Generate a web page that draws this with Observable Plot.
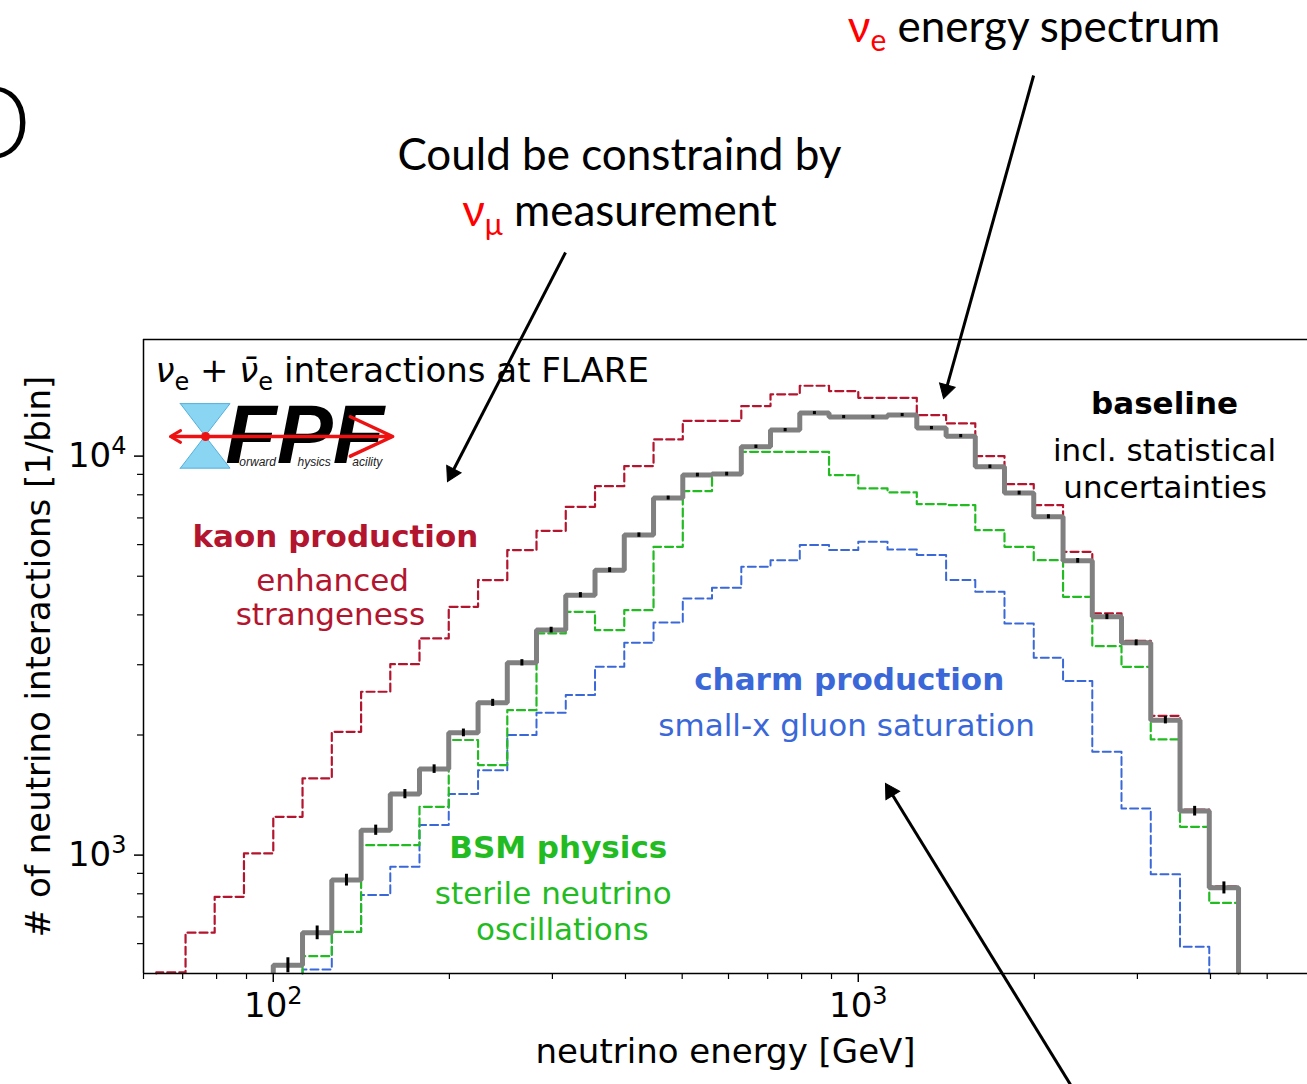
<!DOCTYPE html>
<html>
<head>
<meta charset="utf-8">
<script src="https://cdn.jsdelivr.net/npm/d3@7"></script>
<script src="https://cdn.jsdelivr.net/npm/@observablehq/plot@0.6"></script>
<style>
  html, body { margin: 0; padding: 0; background: #fff; }
</style>
</head>
<body>
<div id="chart"></div>
<script>
// ---------------- DATA ----------------
// histogram bin edges in GeV (20 bins per decade)
const binEdges = [63.1, 70.8, 79.4, 89.1, 100, 112.2, 125.9, 141.3, 158.5, 177.8, 199.5,
  223.9, 251.2, 281.8, 316.2, 354.8, 398.1, 446.7, 501.2, 562.3, 631.0, 707.9, 794.3,
  891.3, 1000, 1122, 1259, 1413, 1585, 1778, 1995, 2239, 2512, 2818, 3162, 3548, 3981, 4467];

// kaon production (enhanced strangeness), 37 bins
const kaon = [508, 639, 786, 1010, 1247, 1557, 2037, 2567, 3010, 3493, 4191, 4889, 5813,
  6498, 7463, 8408, 9441, 11010, 12260, 12260, 13347, 14280, 15007, 14555, 13997, 13997,
  12670, 12078, 10000, 8506, 7538, 5757, 4035, 3444, 2234, 1300, 835];

// baseline
const baseline = [null, null, null, null, 530, 639, 866, 1155, 1422, 1643, 2025, 2408, 3034,
  3664, 4482, 5179, 6339, 7849, 8962, 9014, 10551, 11620, 12820, 12525, 12525, 12670,
  11755, 11222, 9402, 8077, 7046, 5465, 3956, 3405, 2179, 1289, 828];

// BSM physics (sterile neutrino oscillations)
const bsm = [null, null, null, null, null, 558, 642, 1059, 1059, 1321, 1943, 1681, 2308,
  3594, 4072, 3664, 4111, 5925, 8171, 9014, 10250, 10250, 10250, 8962, 8299, 8110,
  7582, 7538, 6523, 5925, 5486, 4440, 3340, 2964, 1950, 1177, 759];

// charm production (small-x gluon saturation)
const charm = [null, null, null, null, null, 517, 642, 794, 935, 1189, 1422, 1633, 1999,
  2275, 2518, 2965, 3404, 3830, 4399, 4677, 5280, 5486, 5984, 5813, 6099, 5834,
  5649, 4889, 4570, 3808, 3123, 2730, 1815, 1309, 896, 589, null];

// axis ticks
const xMajorTicks = [100, 1000];
const xMajorLabels = ["10²", "10³"];
const xMinorTicks = [60, 70, 80, 90, 200, 300, 400, 500, 600, 700, 800, 900, 2000, 3000, 4000, 5000];
const yMajorTicks = [1000, 10000];
const yMajorLabels = ["10³", "10⁴"];
const yMinorTicks = [600, 700, 800, 900, 2000, 3000, 4000, 5000, 6000, 7000, 8000, 9000];

const xLabel = "neutrino energy [GeV]";
const yLabel = "# of neutrino interactions [1/bin]";

// text labels inside the chart
const noteTexts = ["kaon production", "enhanced", "strangeness",
  "baseline", "incl. statistical", "uncertainties",
  "charm production", "small-x gluon saturation",
  "BSM physics", "sterile neutrino", "oscillations"];
const titleSegments = [["ν", "i"], ["e", "s"], [" + "], ["ν̄", "i"], ["e", "s"], [" interactions at FLARE"]];
const slideLine1 = "Could be constraind by";
const slideLine2Segments = [["ν", "r"], ["μ", "rs"], [" measurement"]];
const slideTopSegments = [["ν", "r"], ["e", "rs"], [" energy spectrum"]];
const logoWord = "FPF";
const logoSmall = ["orward", "hysics", "acility"];

// ---------------- LAYOUT ----------------
const W = 1307, H = 1084;
const MT = 339, MB = 111, ML = 143, MR = 0;
const X_DOMAIN = [60, 5860];
const Y_DOMAIN = [505, 19600];
const RED = "#b3152e", GREEN = "#22bb22", BLUE = "#3a68d8", GRAY = "#808080";
const SLIDE_RED = "#ff0000";

// annotation anchors (in data units: GeV, interactions)
const notePos = [
  {x: 127.7, y: 5902, c: RED, b: true}, {x: 126.3, y: 4604, c: RED}, {x: 125.2, y: 3763, c: RED},
  {x: 3338, y: 12785, c: "black", b: true}, {x: 3338, y: 9695, c: "black"}, {x: 3345, y: 7832, c: "black"},
  {x: 965, y: 2586, c: BLUE, b: true}, {x: 955, y: 1994, c: BLUE},
  {x: 307, y: 986, c: GREEN, b: true}, {x: 301, y: 756, c: GREEN}, {x: 312, y: 614, c: GREEN}
];
const arrows = [
  {x1: 315.9, y1: 32380, x2: 198.5, y2: 8636},
  {x1: 1994, y1: 89920, x2: 1399, y2: 13940},
  {x1: 2305, y1: 266, x2: 1113, y2: 1512}
];

// ---------------- HELPERS ----------------
function stepPoints(vals) {
  const idx = vals.map((v, i) => v == null ? -1 : i).filter(i => i >= 0);
  const first = idx[0], last = idx[idx.length - 1];
  const pts = [{x: binEdges[first], y: Y_DOMAIN[0]}];
  for (let i = first; i <= last; i++) pts.push({x: binEdges[i], y: vals[i]});
  pts.push({x: binEdges[last + 1], y: vals[last]});
  pts.push({x: binEdges[last + 1], y: Y_DOMAIN[0]});
  return pts;
}
const errBars = baseline.map((v, i) => v == null ? null : {
  c: Math.sqrt(binEdges[i] * binEdges[i + 1]), lo: v - Math.sqrt(v), hi: v + Math.sqrt(v)
}).filter(Boolean);

const sx = Plot.scale({x: {type: "log", domain: X_DOMAIN, range: [ML, W - MR]}});
const sy = Plot.scale({y: {type: "log", domain: Y_DOMAIN, range: [H - MB, MT]}});
const HEAD_R = 6;
const headOff = 2 * Math.sqrt(Math.PI * HEAD_R * HEAD_R / (3 * Math.sqrt(3)));
const heads = arrows.map(a => {
  const px1 = sx.apply(a.x1), py1 = sy.apply(a.y1), px2 = sx.apply(a.x2), py2 = sy.apply(a.y2);
  const dx = px2 - px1, dy = py2 - py1, L = Math.hypot(dx, dy);
  const cx = px2 - dx / L * headOff, cy = py2 - dy / L * headOff;
  return {x1: a.x1, y1: a.y1, x: sx.invert(cx), y: sy.invert(cy), angle: Math.atan2(dx, -dy) * 180 / Math.PI};
});

const notes = noteTexts.map((t, i) => ({text: t, ...notePos[i]}));
const plainOf = segs => segs.map(s => s[0]).join("");

// ---------------- PLOT ----------------
const noteMarks = notes.map(n => Plot.text([n], {
  x: "x", y: "y", text: "text", fill: n.c, fontSize: 31, fontWeight: n.b ? "bold" : "normal",
  textAnchor: "middle", lineAnchor: "bottom", fontFamily: "DejaVu Sans"
}));

const plot = Plot.plot({
  width: W, height: H,
  marginTop: MT, marginBottom: MB, marginLeft: ML, marginRight: MR,
  x: {type: "log", domain: X_DOMAIN, label: null},
  y: {type: "log", domain: Y_DOMAIN, label: null},
  style: {fontFamily: "DejaVu Sans", fontSize: "34px", background: "white", color: "black", overflow: "visible"},
  marks: [
    // logo (FPF)
    Plot.areaY([{x: 69.5, a: 13500, b: 13500}, {x: 76.6, a: 13500, b: 11200}, {x: 84.5, a: 13500, b: 13500}],
      {x: "x", y1: "a", y2: "b", fill: "#8ad6f2", stroke: "#52b0de", strokeWidth: 1, curve: "linear"}),
    Plot.areaY([{x: 69.5, a: 9300, b: 9300}, {x: 76.6, a: 9300, b: 11200}, {x: 84.5, a: 9300, b: 9300}],
      {x: "x", y1: "a", y2: "b", fill: "#8ad6f2", stroke: "#52b0de", strokeWidth: 1}),
    Plot.text([logoWord], {x: 82.8, y: 9637, text: d => d, fontSize: 84, fontWeight: "bold", fontStyle: "italic",
      fontFamily: "Liberation Sans", textAnchor: "start", lineAnchor: "bottom", fill: "black"}),
    Plot.text(logoSmall, {x: [87.5, 110, 136.5], y: [9470, 9470, 9470], text: d => d,
      fontSize: 12, fontStyle: "italic", fontFamily: "Liberation Sans", textAnchor: "start", lineAnchor: "bottom", fill: "#222"}),
    Plot.arrow([{a: 68, b: 160}], {x1: "a", x2: "b", y1: () => 11200, y2: () => 11200, stroke: "#ee1111",
      strokeWidth: 3.5, headLength: 20, headAngle: 50}),
    Plot.arrow([{a: 76.6, b: 66.7}], {x1: "a", x2: "b", y1: () => 11200, y2: () => 11200, stroke: "#ee1111",
      strokeWidth: 3, headLength: 10, headAngle: 60}),
    Plot.dot([76.6], {x: d => d, y: () => 11200, r: 4.5, fill: "#ee1111", stroke: "none"}),

    // histograms
    Plot.line(stepPoints(charm), {x: "x", y: "y", curve: "step-after", stroke: BLUE, strokeWidth: 2, strokeDasharray: "8,4"}),
    Plot.line(stepPoints(bsm), {x: "x", y: "y", curve: "step-after", stroke: GREEN, strokeWidth: 2.2, strokeDasharray: "8,4"}),
    Plot.line(stepPoints(kaon), {x: "x", y: "y", curve: "step-after", stroke: RED, strokeWidth: 2.2, strokeDasharray: "8,4"}),
    Plot.line(stepPoints(baseline), {x: "x", y: "y", curve: "step-after", stroke: GRAY, strokeWidth: 5,
      strokeLinejoin: "miter", strokeLinecap: "butt"}),
    Plot.ruleX(errBars, {x: "c", y1: "lo", y2: "hi", stroke: "black", strokeWidth: 3}),

    // frame
    Plot.ruleX([X_DOMAIN[0]], {stroke: "black", strokeWidth: 1.5}),
    Plot.ruleY([Y_DOMAIN[0]], {stroke: "black", strokeWidth: 1.5}),
    Plot.ruleY([Y_DOMAIN[1]], {stroke: "black", strokeWidth: 1.5}),

    // axes
    Plot.axisX(xMajorTicks, {anchor: "bottom", tickSize: 9, tickPadding: 10, strokeWidth: 1.5, fontSize: 34,
      tickFormat: d => xMajorLabels[xMajorTicks.indexOf(d)], label: null}),
    Plot.axisX(xMinorTicks, {anchor: "bottom", tickSize: 6, strokeWidth: 1.2, tickFormat: () => "", label: null}),
    Plot.axisY(yMajorTicks, {anchor: "left", tickSize: 9, tickPadding: 8, strokeWidth: 1.5, fontSize: 34,
      tickFormat: d => yMajorLabels[yMajorTicks.indexOf(d)], label: null}),
    Plot.axisY(yMinorTicks, {anchor: "left", tickSize: 6, strokeWidth: 1.2, tickFormat: () => "", label: null}),
    Plot.text([xLabel], {frameAnchor: "bottom", text: d => d, dy: 89, textAnchor: "middle", lineAnchor: "bottom",
      fontSize: 34, fill: "black"}),
    Plot.text([yLabel], {frameAnchor: "left", text: d => d, dx: -104, rotate: -90, textAnchor: "middle",
      lineAnchor: "middle", fontSize: 34, fill: "black"}),

    // title inside plot
    Plot.text([plainOf(titleSegments)], {x: 62.9, y: 15380, text: d => d, fontSize: 34,
      textAnchor: "start", lineAnchor: "bottom", fill: "black"}),

    // notes
    ...noteMarks,

    // slide annotations
    Plot.text(["D"], {x: 38.6, y: 55700, text: d => d, fontSize: 102, fontFamily: "Lato", fontWeight: 300,
      textAnchor: "end", lineAnchor: "bottom", fill: "black"}),
    Plot.text([slideLine1], {x: 390.6, y: 51980, text: d => d, fontSize: 44, fontFamily: "Lato",
      textAnchor: "middle", lineAnchor: "bottom", fill: "black"}),
    Plot.text([plainOf(slideLine2Segments)], {x: 390.6, y: 37630, text: d => d, fontSize: 44,
      fontFamily: "Lato", textAnchor: "middle", lineAnchor: "bottom", fill: "black"}),
    Plot.text([plainOf(slideTopSegments)], {x: 1997, y: 108800, text: d => d, fontSize: 44,
      fontFamily: "Lato", textAnchor: "middle", lineAnchor: "bottom", fill: "black"}),

    // black arrows
    Plot.link(heads, {x1: "x1", y1: "y1", x2: "x", y2: "y", stroke: "black", strokeWidth: 3}),
    Plot.dot(heads, {x: "x", y: "y", symbol: "triangle", r: HEAD_R, rotate: "angle", fill: "black", stroke: "black", strokeWidth: 1})
  ]
});

document.getElementById("chart").appendChild(plot);

// rich text (italic Greek letters, subscripts, superscripts, red letters)
function richText(segs, subSize, subShift, supShift, match) {
  const plain = match ?? plainOf(segs);
  const list = [...plot.querySelectorAll("text")].filter(e => e.textContent === plain);
  for (const t of list) {
    while (t.firstChild) t.removeChild(t.firstChild);
    let shift = 0;
    for (const [txt, flags = ""] of segs) {
      const ts = document.createElementNS("http://www.w3.org/2000/svg", "tspan");
      ts.textContent = txt;
      const target = flags.includes("s") ? subShift : flags.includes("p") ? supShift : 0;
      if (target !== shift) ts.setAttribute("dy", target - shift);
      shift = target;
      if (flags.includes("s") || flags.includes("p")) ts.setAttribute("font-size", subSize);
      if (flags.includes("i")) ts.setAttribute("font-style", "italic");
      if (flags.includes("r")) ts.setAttribute("fill", SLIDE_RED);
      t.appendChild(ts);
    }
  }
}
richText(titleSegments, 24, 8, 0);
richText(slideLine2Segments, 30, 9, 0);
richText(slideTopSegments, 30, 9, 0);
// tick labels: render 10ⁿ as "10" with a raised exponent
const supDigits = {"²": "2", "³": "3", "⁴": "4"};
for (const lab of new Set([...xMajorLabels, ...yMajorLabels])) {
  richText([[lab.slice(0, -1)], [supDigits[lab.slice(-1)], "p"]], 24, 0, -13, lab);
}
</script>
</body>
</html>
